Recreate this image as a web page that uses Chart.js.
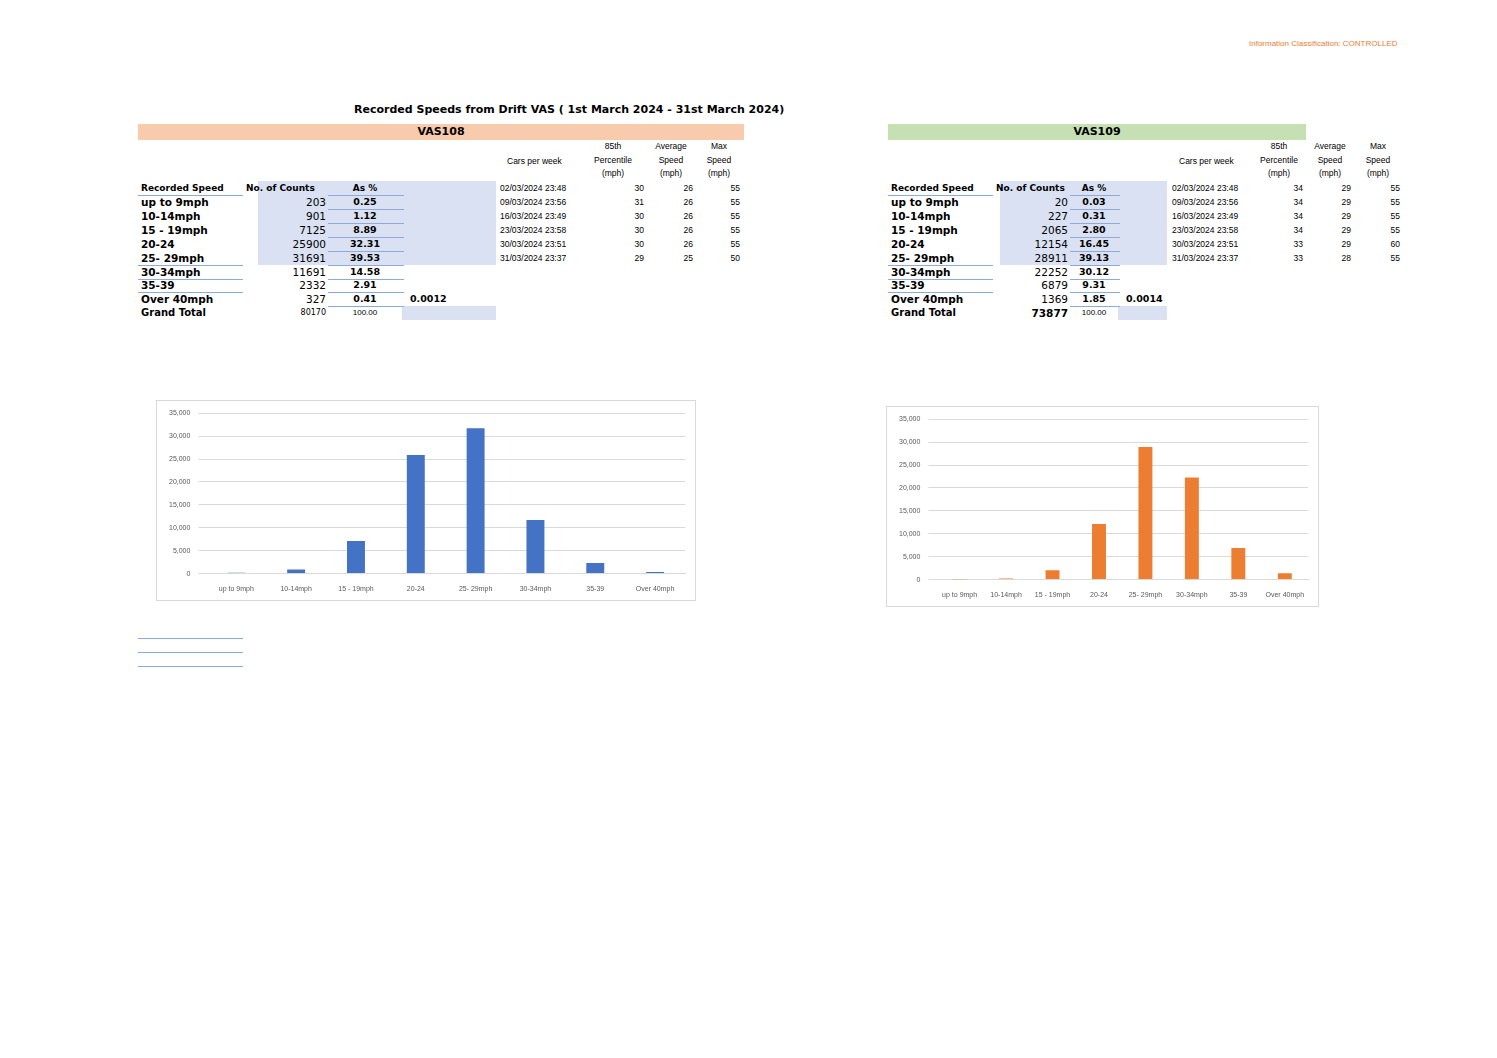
<!DOCTYPE html>
<html><head><meta charset="utf-8">
<script src="https://cdn.jsdelivr.net/npm/chart.js"></script>
<style>
body{margin:0;background:#fff;width:1497px;height:1058px;position:relative;overflow:hidden;font-family:"DejaVu Sans",sans-serif;}
.a{position:absolute;white-space:nowrap;line-height:14px;}
.b{font-weight:bold;font-size:10px;color:#000;}
.s{font-family:"Liberation Sans",Arial,sans-serif;font-size:8.5px;color:#000;}
.box{position:absolute;border:1px solid #d9d9d9;background:#fff;}
</style></head><body>
<div class="a" style="left:1249px;top:37px;font-family:'Liberation Sans';font-size:8px;color:#ED7D31">Information Classification: CONTROLLED</div>
<div class="a b" style="left:354px;top:103px;font-size:11px">Recorded Speeds from Drift VAS ( 1st March 2024 - 31st  March 2024)</div>
<div id="root"></div>
<div class="box" style="left:156px;top:400px;width:538px;height:199px"><canvas id="c1"></canvas></div>
<div class="box" style="left:886px;top:406px;width:431px;height:199px"><canvas id="c2"></canvas></div>
<div style="position:absolute;left:138px;top:638px;width:105px;border-top:1px solid #8EA9DB"></div>
<div style="position:absolute;left:138px;top:652px;width:105px;border-top:1px solid #8EA9DB"></div>
<div style="position:absolute;left:138px;top:666px;width:105px;border-top:1px solid #8EA9DB"></div>
<script>
const categories=["up to 9mph","10-14mph","15 - 19mph","20-24","25- 29mph","30-34mph","35-39","Over 40mph"];
const tableLabels=["up to 9mph","10-14mph","15 - 19mph","20-24","25- 29mph","30-34mph","35-39","Over 40mph"];
const vas108Counts=[203,901,7125,25900,31691,11691,2332,327];
const vas108Pct=["0.25","1.12","8.89","32.31","39.53","14.58","2.91","0.41"];
const vas108Total=80170;
const vas109Counts=[20,227,2065,12154,28911,22252,6879,1369];
const vas109Pct=["0.03","0.31","2.80","16.45","39.13","30.12","9.31","1.85"];
const vas109Total=73877;
const weekDates=["02/03/2024 23:48","09/03/2024 23:56","16/03/2024 23:49","23/03/2024 23:58","30/03/2024 23:51","31/03/2024 23:37"];
const vas108P85=[30,31,30,30,30,29],vas108Avg=[26,26,26,26,26,25],vas108Max=[55,55,55,55,55,50];
const vas109P85=[34,34,34,34,33,33],vas109Avg=[29,29,29,29,29,28],vas109Max=[55,55,55,55,60,55];
const yTicks=[0,5000,10000,15000,20000,25000,30000,35000];

const root=document.getElementById('root');
function el(html,style){const d=document.createElement('div');d.className='a '+(html[1]||'');d.innerHTML=html[0];d.style.cssText=style;root.appendChild(d);return d;}
function rect(l,t,w,h,c){const d=document.createElement('div');d.style.cssText=`position:absolute;left:${l}px;top:${t}px;width:${w}px;height:${h}px;background:${c}`;root.appendChild(d);}
function line(l,t,w){rect(l,t,w,1,'#8EA9DB');}
function table(o){
  rect(o.x0,124,o.bandW,16,o.bandC);
  el([o.name,'b'],`left:${o.x0}px;top:125px;width:${o.bandW}px;text-align:center;font-size:11px`);
  rect(o.pctL-70,181,o.blueR-(o.pctL-70),84,'#D9E1F2');
  rect(o.blueL,306,o.blueR-o.blueL,14,'#D9E1F2');
  const rowY=[188,202,216,230,244,258,272,285,299,313];
  const top=y=>y-7;
  el(['Recorded Speed','b'],`left:${o.x0+3}px;top:${top(188)}px;font-size:9px`);
  el(['No. of Counts','b'],`left:${o.x0+108}px;top:${top(188)}px;font-size:9px`);
  el(['As %','b'],`left:${o.pctL}px;top:${top(188)}px;width:${o.pctW}px;text-align:center;font-size:9px`);
  line(o.x0,195,105);line(o.pctL,195,o.pctW+2);
  for(let i=0;i<8;i++){
    const y=rowY[i+1];
    el([o.labels[i],'b'],`left:${o.x0+3}px;top:${top(y)}px;font-size:10.5px`);
    el([String(o.counts[i]),''],`left:${o.cntR-80}px;top:${top(y)}px;width:80px;text-align:right;font-size:10.5px`);
    el([o.pct[i],'b'],`left:${o.pctL}px;top:${top(y)}px;width:${o.pctW}px;text-align:center;font-size:9.5px`);
    line(o.pctL,y+7,o.pctW+2);
    if(i>=4&&i<=6)line(o.x0,y+7,105);
  }
  el([o.extra,'b'],`left:${o.blueL+8}px;top:${top(299)}px;font-size:9.5px`);
  el(['Grand Total','b'],`left:${o.x0+3}px;top:${top(313)}px;font-size:10px`);
  el([String(o.total),''],`left:${o.cntR-80}px;top:${top(313)}px;width:80px;text-align:right;font-size:${o.totFs}px;${o.totB?'font-weight:bold':''}`);
  el(['100.00',''],`left:${o.pctL}px;top:${top(313)}px;width:${o.pctW}px;text-align:center;font-size:8px;font-family:'Liberation Sans'`);
  // weekly
  el(['Cars per week','s'],`left:${o.dateL+7}px;top:154px`);
  const hdr=[['85th<br>Percentile<br>(mph)',o.p85C],['Average<br>Speed<br>(mph)',o.avgC],['Max<br>Speed<br>(mph)',o.maxC]];
  hdr.forEach(h=>el([h[0],'s'],`left:${h[1]-40}px;top:140px;width:80px;text-align:center;line-height:13.5px`));
  for(let i=0;i<6;i++){
    const y=rowY[i];
    el([weekDates[i],'s'],`left:${o.dateL}px;top:${top(y)}px`);
    el([String(o.p85[i]),'s'],`left:${o.p85R-40}px;top:${top(y)}px;width:40px;text-align:right`);
    el([String(o.avg[i]),'s'],`left:${o.avgR-40}px;top:${top(y)}px;width:40px;text-align:right`);
    el([String(o.max[i]),'s'],`left:${o.maxR-40}px;top:${top(y)}px;width:40px;text-align:right`);
  }
}
table({name:'VAS108',x0:138,bandW:606,bandC:'#F8CBAD',labels:tableLabels,counts:vas108Counts,pct:vas108Pct,total:vas108Total,totFs:8,totB:false,extra:'0.0012',
  cntR:326,pctL:328,pctW:74,blueL:402,blueR:496,dateL:500,p85C:613,avgC:671,maxC:719,p85R:644,avgR:693,maxR:740,p85:vas108P85,avg:vas108Avg,max:vas108Max});
table({name:'VAS109',x0:888,bandW:418,bandC:'#C6E0B4',labels:tableLabels,counts:vas109Counts,pct:vas109Pct,total:vas109Total,totFs:10.5,totB:true,extra:'0.0014',
  cntR:1068,pctL:1070,pctW:48,blueL:1118,blueR:1167,dateL:1172,p85C:1279,avgC:1330,maxC:1378,p85R:1303,avgR:1351,maxR:1400,p85:vas109P85,avg:vas109Avg,max:vas109Max});

function mk(id,data,color,pad){
  new Chart(document.getElementById(id),{type:'bar',
    data:{labels:categories,datasets:[{data:data,backgroundColor:color,categoryPercentage:1,barPercentage:0.3}]},
    options:{responsive:true,maintainAspectRatio:false,animation:false,
      layout:{padding:pad},
      plugins:{legend:{display:false},tooltip:{enabled:false}},
      scales:{
        x:{grid:{display:false},border:{color:'#d9d9d9'},ticks:{color:'#595959',font:{size:7,family:'Liberation Sans'},maxRotation:0,autoSkip:false}},
        y:{min:0,max:35000,afterBuildTicks:a=>{a.ticks=yTicks.map(v=>({value:v}));},grid:{color:'#d9d9d9'},border:{display:false},ticks:{color:'#595959',font:{size:7,family:'Liberation Sans'},padding:8}}
      }}});
}
mk('c1',vas108Counts,'#4472C4',{left:4,right:10,top:6,bottom:4});
mk('c2',vas109Counts,'#ED7D31',{left:4,right:10,top:6,bottom:4});
</script>
</body></html>
